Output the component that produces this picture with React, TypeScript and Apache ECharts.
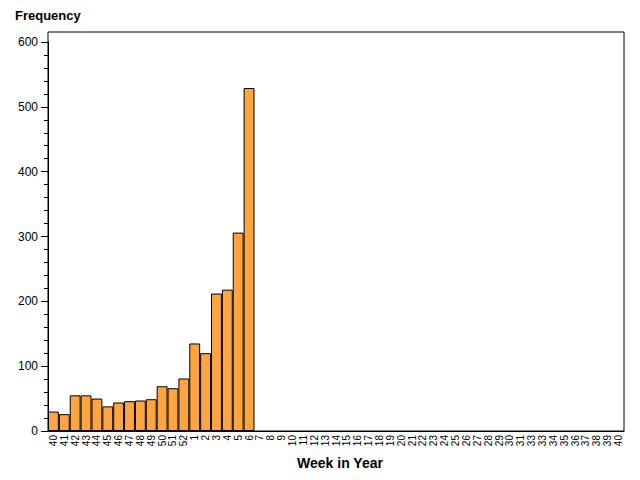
import React, { useEffect, useRef } from "react";
import * as echarts from "echarts";

const weeks: string[] = [
  "40","41","42","43","44","45","46","47","48","49","50","51","52",
  "1","2","3","4","5","6","7","8","9","10","11","12","13","14","15","16","17","18","19","20",
  "21","22","23","24","25","26","27","28","29","30","31","33","33","34","35","36","37","38","39","40",
];

const frequency: (number | null)[] = [
  30, 26, 55, 55, 50, 38, 44, 46, 47, 49, 69, 66, 81,
  135, 120, 212, 218, 306, 529,
];

const yTicks = { min: 0, max: 600, interval: 100 };

const FONT = "Liberation Sans, Arial, sans-serif";

export default function App() {
  const ref = useRef<HTMLDivElement>(null);
  useEffect(() => {
    if (!ref.current) return;
    const chart = echarts.init(ref.current, undefined, { renderer: "svg" });
    const data = weeks.map((_, i) => (i < frequency.length ? frequency[i] : null));
    chart.setOption({
      animation: false,
      textStyle: { fontFamily: FONT },
      grid: {
        left: 48,
        right: 16,
        top: 42,
        bottom: 49,
        show: false,
      },
      graphic: [
        {
          type: "rect",
          shape: { x: 48, y: 32, width: 576, height: 399 },
          style: { fill: "none", stroke: "#000", lineWidth: 1 },
          silent: true,
          z: 10,
        },
      ],
      title: [
        {
          text: "Frequency",
          left: 10,
          top: 4,
          textStyle: { fontSize: 13, fontWeight: "bold", color: "#000", fontFamily: FONT },
        },
        {
          text: "Week in Year",
          left: 335,
          top: 451,
          textAlign: "center",
          textStyle: { fontSize: 14, fontWeight: "bold", color: "#000", fontFamily: FONT },
        },
      ],
      xAxis: {
        type: "category",
        data: weeks,
        axisLine: { show: true, lineStyle: { color: "#000" } },
        axisTick: { show: false },
        axisLabel: {
          rotate: 90,
          interval: 0,
          fontSize: 10,
          color: "#000",
          margin: 4,
        },
        splitLine: { show: false },
      },
      yAxis: {
        type: "value",
        min: yTicks.min,
        max: yTicks.max,
        interval: yTicks.interval,
        axisLine: { show: true, lineStyle: { color: "#000" } },
        axisTick: { show: true, length: 7, lineStyle: { color: "#000" } },
        minorTick: { show: true, splitNumber: 5, length: 4, lineStyle: { color: "#000" } },
        axisLabel: { fontSize: 12, color: "#000", margin: 10 },
        splitLine: { show: false },
      },
      series: [
        {
          type: "bar",
          data,
          barCategoryGap: "0%",
          itemStyle: { color: "#FFA53F", borderColor: "#000", borderWidth: 1 },
        },
      ],
    });
    return () => chart.dispose();
  }, []);
  return (
    <div
      ref={ref}
      style={{ position: "absolute", left: 0, top: 0, width: 640, height: 480, background: "#fff" }}
    />
  );
}
